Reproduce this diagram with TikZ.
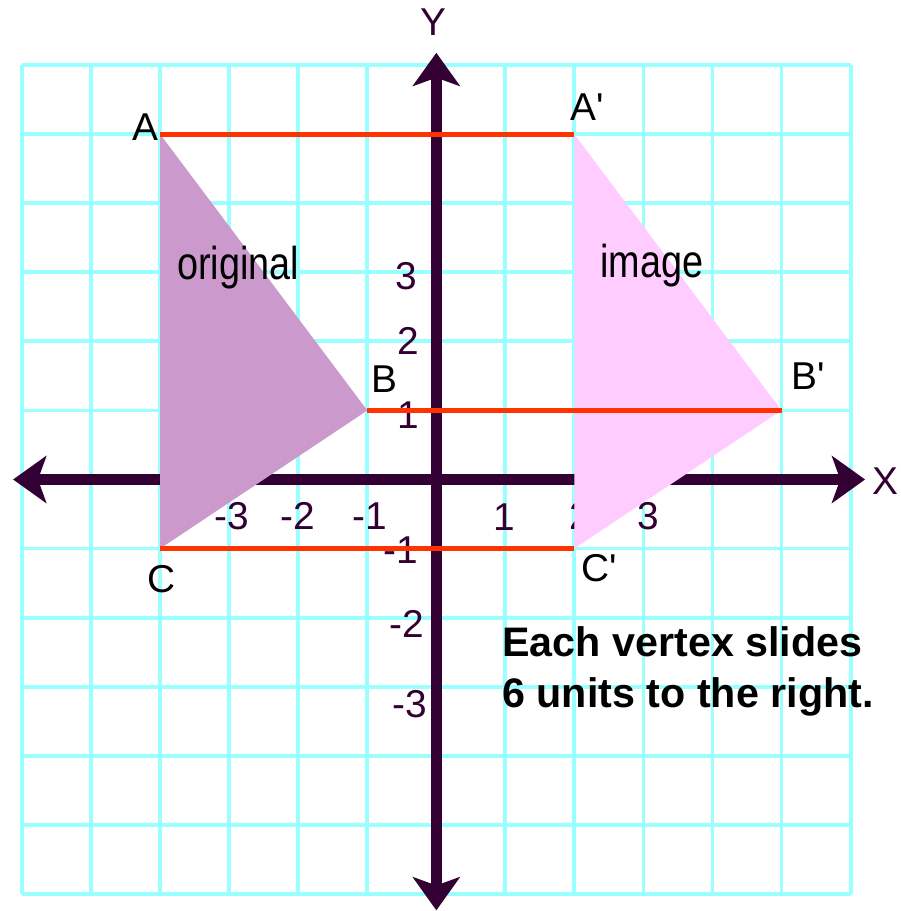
\documentclass[tikz,border=0pt]{standalone}
\usepackage{fontspec}
\setmainfont{Liberation Sans}
\newfontfamily\narrowsans[FakeStretch=0.82]{Liberation Sans}
\usetikzlibrary{arrows.meta}
\definecolor{gridcyan}{HTML}{99FFFF}
\definecolor{axisplum}{HTML}{330033}
\definecolor{slidered}{HTML}{FF3300}
\definecolor{origfill}{HTML}{CC99CC}
\definecolor{imgfill}{HTML}{FFCCFF}
\tikzset{
  gridline/.style={draw=gridcyan,line width=1.6pt},
  axis/.style={{Stealth[length=4.8mm,width=6.8mm,inset=1.2mm]}-{Stealth[length=4.8mm,width=6.8mm,inset=1.2mm]},draw=axisplum,line width=4.5pt},
  slide/.style={draw=slidered,line width=1.9pt},
  axislabel/.style={font=\fontsize{16}{18}\selectfont,text=axisplum,inner sep=0pt},
  tick/.style={font=\fontsize{16}{18}\selectfont,text=axisplum,inner sep=0pt},
  vertex/.style={font=\fontsize{16}{18}\selectfont,text=black,inner sep=0pt},
  tag/.style={font=\narrowsans\fontsize{19}{22}\selectfont,text=black,inner sep=0pt,anchor=base},
  note/.style={font=\bfseries\fontsize{17}{20}\selectfont,text=black,inner sep=0pt,anchor=base west}
}
\begin{document}
\begin{tikzpicture}[x=1cm,y=1cm]
\path[use as bounding box,fill=white] (-6.32,-6.25) rectangle (6.73,6.945);
% grid paper
\draw[gridline] (-6,-6) grid (6,6);
% axes
\coordinate (xl) at (-6.13,0); \coordinate (xr) at (6.21,0); \coordinate (yb) at (0,-6.24); \coordinate (yt) at (0,6.18);
\draw[axis] (xl)--(xr); \draw[axis] (yb)--(yt);
\node[axislabel] (ylab) at (-0.04,6.63) {Y}; \node[axislabel] (xlab) at (6.51,-0.02) {X};
\node[tick] (xm3) at (-2.96,-0.53) {-3}; \node[tick] (xm2) at (-2.0,-0.53) {-2}; \node[tick] (xm1) at (-0.96,-0.53) {-1};
\node[tick] (xp1) at (0.99,-0.55) {1}; \node[tick] (xp2) at (2.09,-0.53) {2}; \node[tick] (xp3) at (3.07,-0.53) {3};
\node[tick] (yp3) at (-0.43,2.95) {3}; \node[tick] (yp2) at (-0.40,2.0) {2}; \node[tick] (yp1) at (-0.40,0.93) {1};
\node[tick] (ym1) at (-0.51,-1.02) {-1}; \node[tick] (ym2) at (-0.43,-2.09) {-2}; \node[tick] (ym3) at (-0.38,-3.25) {-3};
% triangles
\coordinate (A) at (-4,5); \coordinate (B) at (-1,1); \coordinate (C) at (-4,-1);
\coordinate (Ap) at (2,5); \coordinate (Bp) at (5,1); \coordinate (Cp) at (2,-1);
\fill[origfill] (A)--(B)--(C)--cycle;
\fill[imgfill] (Ap)--(Bp)--(Cp)--cycle;
% slide lines
\draw[slide] (A)--(Ap); \draw[slide] (B)--(Bp); \draw[slide] (C)--(Cp);
\node[vertex] (labA) at (-4.22,5.1) {A}; \node[vertex] (labB) at (-0.75,1.46) {B}; \node[vertex] (labC) at (-3.98,-1.44) {C};
\node[vertex] (labAp) at (2.19,5.39) {A\textquotesingle}; \node[vertex] (labBp) at (5.39,1.50) {B\textquotesingle}; \node[vertex] (labCp) at (2.36,-1.28) {C\textquotesingle};
\node[tag] (orig) at (-2.87,2.89) {original}; \node[tag] (img) at (3.12,2.92) {image};
\node[note] (slide1) at (0.95,-2.57) {Each vertex slides}; \node[note] (slide2) at (0.95,-3.30) {6 units to the right.};
\end{tikzpicture}
\end{document}
